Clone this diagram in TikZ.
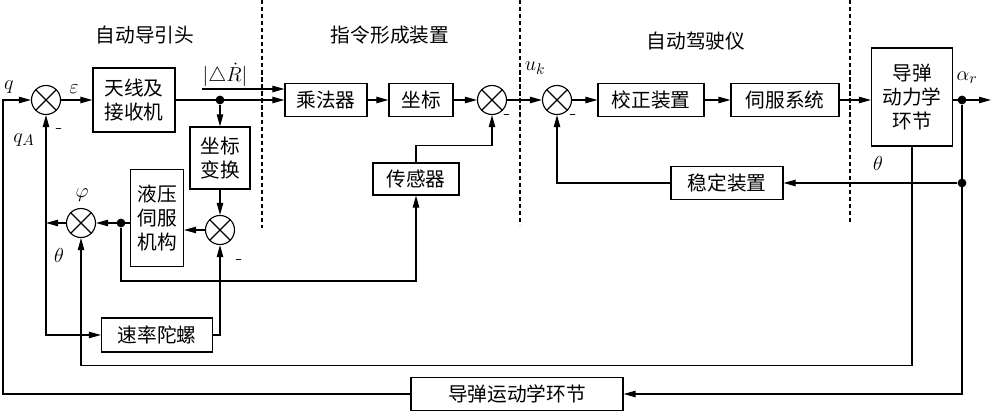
\documentclass[tikz,border=0pt]{standalone}
\usepackage{fontspec}
\newfontfamily\cjk{Noto Sans CJK SC}
\usetikzlibrary{arrows.meta}
\begin{document}
\begin{tikzpicture}[x = 0.025cm, y = -0.025cm,
                    block/.style = {shape = rectangle,
                                    draw,
                                    line width = 0.8pt,
                                    inner sep = 0pt,
                                    align = center,
                                    font = \cjk\fontsize{14}{17}\selectfont},
                    summer/.style = {shape = circle,
                                     draw,
                                     line width = 0.8pt,
                                     inner sep = 0pt,
                                     minimum size = 0.725cm,
                                     path picture = {\draw[line width = 0.8pt]
                                        (path picture bounding box.north west) -- (path picture bounding box.south east)
                                        (path picture bounding box.north east) -- (path picture bounding box.south west);}},
                    dot/.style = {shape = circle, fill, inner sep = 0pt, minimum size = 0.22cm},
                    lbl/.style = {inner sep = 0pt, font = \fontsize{15}{18}\selectfont},
                    title/.style = {inner sep = 0pt, font = \cjk\fontsize{14}{17}\selectfont},
                    arr/.style = {line width = 0.8pt, -{Triangle[length = 3mm, width = 1.6mm]}},
                    sep/.style = {line width = 0.8pt, dash pattern = on 3pt off 2pt}]
		\useasboundingbox (0,0) rectangle (991,411);
		\node[summer] (s1) at (46,100) {};
		\node[block, minimum width = 2.05cm, minimum height = 1.6cm] (ant) at (134,100) {天线及\\接收机};
		\node[dot] (d1) at (220,100) {};
		\node[block, minimum width = 2.05cm, minimum height = 0.825cm] (mul) at (326,100) {乘法器};
		\node[block, minimum width = 1.6cm, minimum height = 0.825cm] (crd) at (421,100) {坐标};
		\node[summer] (s2) at (492,100) {};
		\node[summer] (s3) at (557,100) {};
		\node[block, minimum width = 2.65cm, minimum height = 0.825cm] (cor) at (651,100) {校正装置};
		\node[block, minimum width = 2.7cm, minimum height = 0.825cm] (srv) at (785,100) {伺服系统};
		\node[block, minimum width = 2.025cm, minimum height = 2.45cm] (dyn) at (912,97) {导弹\\动力学\\环节};
		\node[dot] (d2) at (962,100) {};
		\coordinate (out) at (991,100);
		\node[dot] (d3) at (962,183) {};
		\node[block, minimum width = 2.8cm, minimum height = 0.825cm] (stb) at (727,183) {稳定装置};
		\node[block, minimum width = 1.5cm, minimum height = 1.55cm] (ctf) at (220,158) {坐标\\变换};
		\node[summer] (s5) at (220,230) {};
		\node[block, minimum width = 1.325cm, minimum height = 2.425cm] (hyd) at (157,218) {液压\\伺服\\机构};
		\node[dot] (d4) at (121,223) {};
		\node[summer] (s4) at (81,223) {};
		\coordinate (j1) at (46,223);
		\node[block, minimum width = 2.15cm, minimum height = 0.8cm] (sen) at (416,179) {传感器};
		\node[block, minimum width = 2.775cm, minimum height = 0.85cm] (gyr) at (157,335) {速率陀螺};
		\node[block, minimum width = 5.3cm, minimum height = 0.825cm] (kin) at (517,394) {导弹运动学环节};
		\coordinate (r0) at (202,89);
		\node[title] (t1) at (145,35) {自动导引头};
		\node[title] (t2) at (390,35) {指令形成装置};
		\node[title] (t3) at (696,41) {自动驾驶仪};
		\node[lbl] (lq) at (9,87) {$q$};
		\node[lbl] (leps) at (74,89) {$\varepsilon$};
		\node[lbl] (lqa) at (24,140) {$q_A$};
		\node[lbl] (lphi) at (82,195) {$\varphi$};
		\node[lbl] (lth1) at (59,255) {$\theta$};
		\node[lbl] (lr) at (225,75) {$\bigl|\triangle\dot{R}\bigr|$};
		\node[lbl] (luk) at (535,68) {$u_k$};
		\node[lbl] (lar) at (967,78) {$\alpha_r$};
		\node[lbl] (lth2) at (878,163) {$\theta$};
		\node[lbl] (m1) at (59,131) {-};
		\node[lbl] (m2) at (507,117) {-};
		\node[lbl] (m3) at (573,117) {-};
		\node[lbl] (m5) at (239,262) {-};
		\draw[sep] (262,0) -- (262,228);
		\draw[sep] (520,0) -- (520,225);
		\draw[sep] (850,0) -- (850,223);
		\draw[arr] (kin.west) -| (3,100) -- (s1.west);
		\draw[arr] (s1.east) -- (ant.west);
		\draw[arr] (ant.east) -- (mul.west);
		\draw[arr] (r0) -- (r0 -| mul.west);
		\draw[arr] (d1) -- (ctf.north);
		\draw[arr] (ctf.south) -- (s5.north);
		\draw[arr] (s5.west) -- (s5.west -| hyd.east);
		\draw[arr] (d4 -| hyd.west) -- (s4.east);
		\draw[arr] (s4.west) -- (j1);
		\draw[arr] (j1) -- (s1.south);
		\draw[arr] (j1) |- (gyr.west);
		\draw[arr] (gyr.east) -| (s5.south);
		\draw[arr] (dyn.south) -- ++(0,219) -| (s4.south);
		\draw[arr] (d4) -- ++(0,58) -| (sen.south);
		\draw[arr] (sen.north) -- ++(0,-17) -| (s2.south);
		\draw[arr] (mul.east) -- (crd.west);
		\draw[arr] (crd.east) -- (s2.west);
		\draw[arr] (s2.east) -- (s3.west);
		\draw[arr] (s3.east) -- (cor.west);
		\draw[arr] (cor.east) -- (srv.west);
		\draw[arr] (srv.east) -- (srv.east -| dyn.west);
		\draw[arr] (d2 -| dyn.east) -- (out);
		\draw[arr] (d2) |- (kin.east);
		\draw[arr] (d3) -- (stb.east);
		\draw[arr] (stb.west) -| (s3.south);
	\end{tikzpicture}
\end{document}
